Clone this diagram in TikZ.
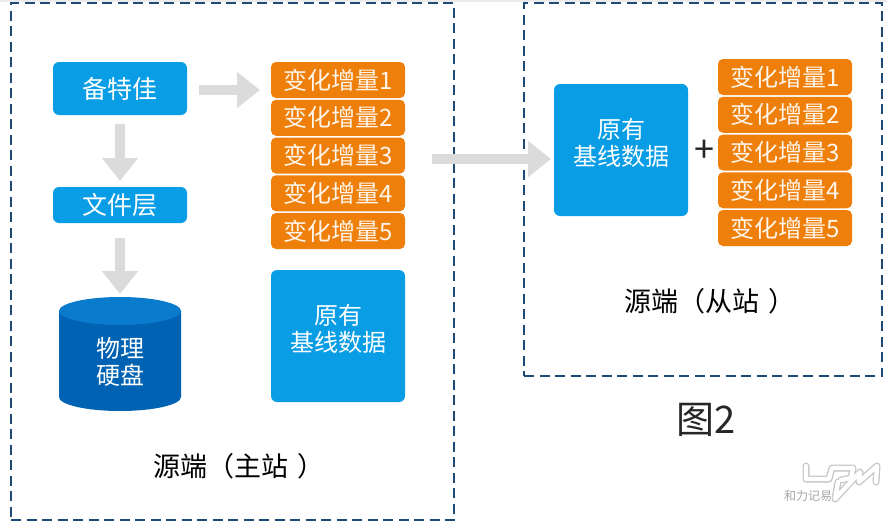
\documentclass[tikz,border=0pt]{standalone}
\usepackage{fontspec}
\setmainfont{Noto Sans CJK SC}
\usetikzlibrary{positioning,arrows.meta,shapes.geometric}
\definecolor{boxblue}{RGB}{8,157,229}
\definecolor{diskblue}{RGB}{0,98,178}
\definecolor{disktop}{RGB}{10,122,205}
\definecolor{deltaorange}{RGB}{238,127,10}
\definecolor{framedash}{RGB}{29,75,115}
\definecolor{flowgray}{RGB}{219,219,219}
\tikzset{
	>={Triangle[length=23pt,width=35pt]}
}

\begin{document}
\begin{tikzpicture}[
x = 1pt,
y = -1pt,
node distance = 1.75pt,
every node/.style = {
	font = \fontsize{24}{27}\selectfont
},
frame/.style = {
	draw = framedash,
	line width = 1.8pt,
	outer sep = 0pt,
	dash pattern = on 10pt off 5.5pt
},
bluebox/.style = {
	fill = boxblue,
	text = white,
	rounded corners = 6pt,
	minimum width = 134pt,
	outer sep = 0pt,
	align = center
},
basetext/.style = {
	text = white,
	align = center,
	yshift = 7.5pt
},
delta/.style = {
	fill = deltaorange,
	rounded corners = 5pt,
	minimum width = 134pt,
	minimum height = 36pt,
	inner sep = 0pt,
	outer sep = 0pt,
	text = white!92!orange
},
flow/.style = {
	draw = flowgray,
	line width = 10pt,
	->
},
title/.style = {
	font = \fontsize{27}{30}\selectfont
},
logo/.style = {
	line join = round,
	line cap = round
}
]
\useasboundingbox (0,0) rectangle (887,525);
\fill [black!8] (0,0) rectangle (887,2);

% frames
\node (main_frame) [frame, minimum width = 443pt, minimum height = 517pt, anchor = north west] at (11,3) {};
\node (slave_frame) [frame, minimum width = 358pt, minimum height = 373pt, anchor = north west] at (524,3) {};

% main site
\node (betterjia) [bluebox, minimum height = 53pt, anchor = north west, font = \fontsize{25}{27}\selectfont] at (53,62) {备特佳};
\node (filelayer) [bluebox, minimum height = 36pt, anchor = north west, font = \fontsize{25}{27}\selectfont] at (53,187) {文件层};

\fill [diskblue] (59,311) -- (59,397) arc [start angle = 180, end angle = 0, x radius = 61, y radius = 14] -- (181,311) -- cycle;
\fill [disktop] (120,311) ellipse [x radius = 61, y radius = 14];
\node (disk) [text = white, align = center] at (120,362) {物理\\硬盘};
\coordinate (disk_top) at (120,297);

\node (delta_a1) [delta, anchor = north west] at (271,62) {变化增量1};
\node (delta_a2) [delta, below = of delta_a1] {变化增量2};
\node (delta_a3) [delta, below = of delta_a2] {变化增量3};
\node (delta_a4) [delta, below = of delta_a3] {变化增量4};
\node (delta_a5) [delta, below = of delta_a4] {变化增量5};
\node (base_a) [bluebox, minimum height = 132pt, anchor = north west] at (271,270) {};
\node (base_a_t) [basetext] at (base_a) {原有\\基线数据};
\node (main_t) [title] at (239,466) {源端（主站\hspace{9pt}）};

% slave site
\node (base_b) [bluebox, minimum height = 132pt, anchor = north west] at (554,84) {};
\node (base_b_t) [basetext] at (base_b) {原有\\基线数据};
\node (plus) [font = \fontsize{36}{36}\selectfont, text = black!85] at (704,151) {+};
\node (delta_b1) [delta, anchor = north west] at (718,59) {变化增量1};
\node (delta_b2) [delta, below = of delta_b1] {变化增量2};
\node (delta_b3) [delta, below = of delta_b2] {变化增量3};
\node (delta_b4) [delta, below = of delta_b3] {变化增量4};
\node (delta_b5) [delta, below = of delta_b4] {变化增量5};
\node (slave_t) [title] at (710,301) {源端（从站\hspace{9pt}）};
\node (fig_t) [font = \fontsize{38}{40}\selectfont, text = black!85] at (706,420) {图2};

% flows
\coordinate (flow_a) at (199,90);
\coordinate (flow_b) at (260,90);
\coordinate (flow_c) at (432,159);
\coordinate (flow_d) at (551,159);
\draw [flow] (flow_a) -- (flow_b);
\draw [flow, shorten <= 9pt, shorten >= 6pt] (betterjia) -- (filelayer);
\draw [flow, shorten <= 15pt, shorten >= 3pt] (filelayer) -- (disk_top);
\draw [flow] (flow_c) -- (flow_d);

% watermark
\foreach \col/\wid in {black!22/7pt, white/4.4pt} {
	\draw [logo, draw = \col, line width = \wid]
		(806,466) -- (806,479) -- (829,479) -- (832,468) -- (853,468) -- (851,478) -- (841,480);
	\draw [logo, draw = \col, line width = \wid]
		(838,482) -- (835,499) -- (860,472) -- (859,482) -- (877,466) -- (876,482);
}
\node (mark_t) [text = black!35, font = \fontsize{12}{13}\selectfont, inner sep = 0pt] at (808,496) {和力记易};
\end{tikzpicture}
\end{document}
